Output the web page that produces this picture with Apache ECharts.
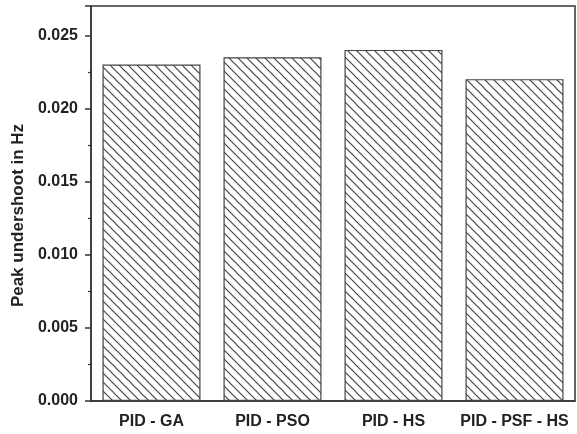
<!DOCTYPE html>
<html><head><meta charset="utf-8">
<script src="https://cdn.jsdelivr.net/npm/echarts@6/dist/echarts.min.js"></script>
<style>html,body{margin:0;padding:0;background:#fff}#c{width:577px;height:434px}</style>
</head><body><div id="c"></div>
<script>
var categories = ['PID - GA', 'PID - PSO', 'PID - HS', 'PID - PSF - HS'];
var values = [0.0230, 0.0235, 0.0240, 0.0220];
var yTicks = [0, 0.005, 0.010, 0.015, 0.020, 0.025];

function hatch() {
  var s = 9;
  var cv = document.createElement('canvas');
  cv.width = s; cv.height = s;
  var ctx = cv.getContext('2d');
  ctx.fillStyle = '#fff'; ctx.fillRect(0, 0, s, s);
  ctx.strokeStyle = '#444'; ctx.lineWidth = 1.2;
  ctx.beginPath();
  ctx.moveTo(-1, -1); ctx.lineTo(s + 1, s + 1);
  ctx.moveTo(-1 - s, -1); ctx.lineTo(1, s + 1);
  ctx.moveTo(s - 1, -1); ctx.lineTo(2 * s + 1, s + 1);
  ctx.stroke();
  return cv;
}

var chart = echarts.init(document.getElementById('c'), null, {renderer: 'canvas'});
var font = 'Liberation Sans, Arial, sans-serif';
chart.setOption({
  animation: false,
  grid: {left: 91, right: 2, top: 6, bottom: 33, show: true, borderColor: '#333', borderWidth: 1.5, backgroundColor: 'transparent'},
  xAxis: [{
    type: 'category', data: categories,
    axisLine: {lineStyle: {color: '#333', width: 1.5}},
    axisTick: {alignWithLabel: true, length: 6, lineStyle: {color: '#333', width: 1.5}},
    axisLabel: {interval: 0, margin: 13, fontSize: 16, fontWeight: 'bold', color: '#222', fontFamily: font}
  }, {
    type: 'category', data: categories, position: 'bottom',
    axisLine: {show: false},
    axisTick: {length: 3, lineStyle: {color: '#333', width: 1.2}},
    axisLabel: {show: false}
  }],
  yAxis: {
    type: 'value', min: 0, max: 0.027, interval: 0.005,
    name: 'Peak undershoot in Hz', nameLocation: 'middle', nameGap: 64,
    nameTextStyle: {fontSize: 17, fontWeight: 'bold', color: '#222', fontFamily: font, padding: [0, 24, 0, 0]},
    axisLine: {show: true, lineStyle: {color: '#333', width: 1.5}},
    axisTick: {show: true, length: 6, lineStyle: {color: '#333', width: 1.5}},
    minorTick: {show: true, splitNumber: 2, length: 3, lineStyle: {color: '#333', width: 1.2}},
    splitLine: {show: false},
    axisLabel: {margin: 13, fontSize: 16, fontWeight: 'bold', color: '#222', fontFamily: font,
      formatter: function (v) { return v.toFixed(3); },
      showMaxLabel: false}
  },
  series: [{
    type: 'bar', data: values, barWidth: '81%', xAxisIndex: 0,
    itemStyle: {color: {image: hatch(), repeat: 'repeat'}, borderColor: '#444', borderWidth: 1.2}
  }]
});
</script></body></html>
